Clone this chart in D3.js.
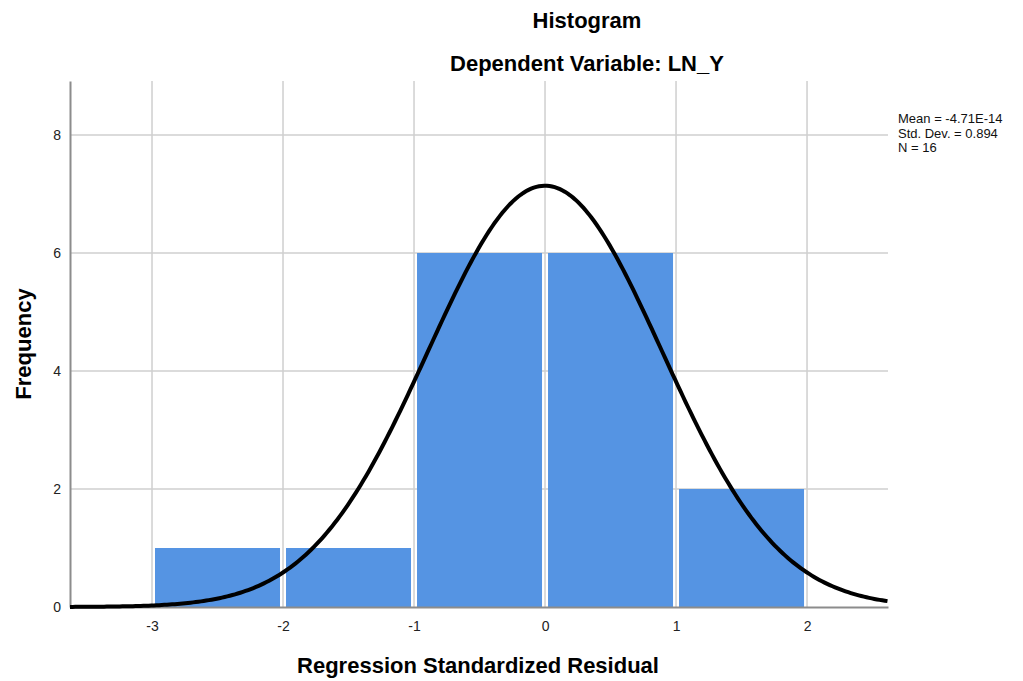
<!DOCTYPE html>
<html><head><meta charset="utf-8">
<script src="https://cdn.jsdelivr.net/npm/d3@7"></script>
<style>
body{margin:0;background:#fff;}
svg text{font-family:"Liberation Sans",Arial,sans-serif;}
</style></head>
<body><svg id="c" width="1023" height="681"></svg>
<script>
// Data
const binStarts = [-3, -2, -1, 0, 1];
const binEnds = [-2, -1, 0, 1, 2];
const frequencies = [1, 1, 6, 6, 2];
const xTicks = [-3, -2, -1, 0, 1, 2];
const yTicks = [0, 2, 4, 6, 8];
const statLabels = ["Mean = -4.71E-14", "Std. Dev. = 0.894", "N = 16"];
const mean = -4.71e-14, sd = 0.894, n = 16, binWidth = 1;

const svg = d3.select("#c");
const L = 70, R = 888, T = 81, B = 607;
const x = d3.scaleLinear().domain([-3.626, 2.618]).range([L, R]);
const y = d3.scaleLinear().domain([0, 8.915]).range([B, T]);

// grid
svg.append("g").selectAll("line").data(xTicks).join("line")
  .attr("x1", d => x(d)).attr("x2", d => x(d)).attr("y1", T).attr("y2", B)
  .attr("stroke", "#cfcfcf").attr("stroke-width", 1.5);
svg.append("g").selectAll("line").data(yTicks.filter(d => d > 0)).join("line")
  .attr("x1", L).attr("x2", R).attr("y1", d => y(d)).attr("y2", d => y(d))
  .attr("stroke", "#cfcfcf").attr("stroke-width", 1.5);

// bars
svg.append("g").selectAll("rect").data(frequencies).join("rect")
  .attr("x", (d, i) => x(binStarts[i]) + 3)
  .attr("width", (d, i) => x(binEnds[i]) - x(binStarts[i]) - 6)
  .attr("y", d => y(d)).attr("height", d => B - y(d))
  .attr("fill", "#5594e3");

// axes
const fmt = d => String(d);
const xAxis = svg.append("g").attr("transform", `translate(0,${B})`)
  .call(d3.axisBottom(x).tickValues(xTicks).tickSize(0).tickPadding(14).tickFormat(fmt));
const yAxis = svg.append("g").attr("transform", `translate(${L},0)`)
  .call(d3.axisLeft(y).tickValues(yTicks).tickSize(0).tickPadding(9).tickFormat(fmt));
[xAxis, yAxis].forEach(a => {
  a.select(".domain").attr("stroke", "#8c8c8c").attr("stroke-width", 2);
  a.selectAll("text").attr("font-size", 14).attr("fill", "#222")
    .attr("font-family", "'Liberation Sans',Arial,sans-serif");
});

// normal curve from the reported mean, std. dev. and N
const xs = d3.range(x.domain()[0], x.domain()[1] + 0.001, 0.02);
const dens = v => n * binWidth * Math.exp(-0.5 * ((v - mean) / sd) ** 2) / (sd * Math.sqrt(2 * Math.PI));
svg.append("path").datum(xs)
  .attr("d", d3.line().x(d => x(d)).y(d => y(dens(d))))
  .attr("fill", "none").attr("stroke", "#000").attr("stroke-width", 4);

// titles
svg.append("text").attr("x", 587).attr("y", 28).attr("text-anchor", "middle")
  .attr("font-size", 22).attr("font-weight", "bold").text("Histogram");
svg.append("text").attr("x", 587).attr("y", 71).attr("text-anchor", "middle")
  .attr("font-size", 22).attr("font-weight", "bold").text("Dependent Variable: LN_Y");
svg.append("text").attr("x", 478).attr("y", 673).attr("text-anchor", "middle")
  .attr("font-size", 22).attr("font-weight", "bold").text("Regression Standardized Residual");
svg.append("text").attr("transform", "translate(31,344) rotate(-90)").attr("text-anchor", "middle")
  .attr("font-size", 22).attr("font-weight", "bold").text("Frequency");

// stats
svg.append("g").selectAll("text").data(statLabels).join("text")
  .attr("x", 898).attr("y", (d, i) => 123 + i * 14.5)
  .attr("font-size", 13).attr("fill", "#111").text(d => d);
</script></body></html>
